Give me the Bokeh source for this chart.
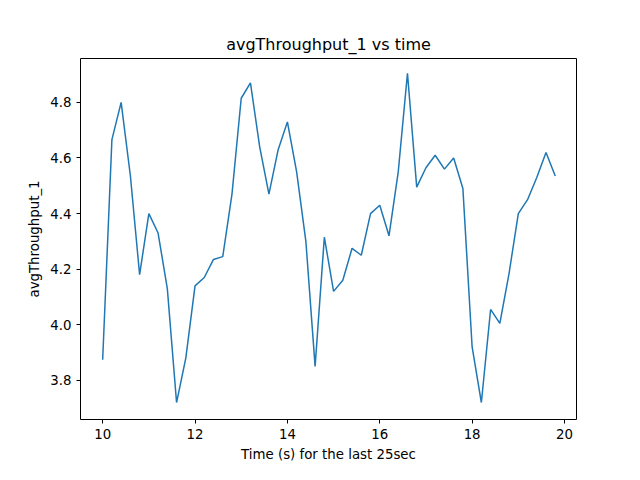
from bokeh.plotting import figure
from bokeh.models import Range1d, FixedTicker, NumeralTickFormatter
from bokeh.embed import file_html
from bokeh.resources import INLINE

# time values (s) and average throughput
time_s = [10.0, 10.2, 10.4, 10.6, 10.8, 11.0, 11.2, 11.4, 11.6, 11.8,
          12.0, 12.2, 12.4, 12.6, 12.8, 13.0, 13.2, 13.4, 13.6, 13.8,
          14.0, 14.2, 14.4, 14.6, 14.8, 15.0, 15.2, 15.4, 15.6, 15.8,
          16.0, 16.2, 16.4, 16.6, 16.8, 17.0, 17.2, 17.4, 17.6, 17.8,
          18.0, 18.2, 18.4, 18.6, 18.8, 19.0, 19.2, 19.4, 19.6, 19.8]
avg_throughput = [3.874, 4.666, 4.80, 4.536, 4.18, 4.40, 4.33, 4.13, 3.72, 3.88,
                  4.14, 4.17, 4.235, 4.245, 4.47, 4.815, 4.87, 4.64, 4.47, 4.63,
                  4.73, 4.55, 4.30, 3.85, 4.315, 4.12, 4.16, 4.275, 4.25, 4.40,
                  4.43, 4.32, 4.55, 4.905, 4.495, 4.565, 4.61, 4.56, 4.60, 4.49,
                  3.92, 3.72, 4.055, 4.005, 4.185, 4.40, 4.45, 4.53, 4.62, 4.535]

font = "DejaVu Sans"

p = figure(width=624, height=464, output_backend="svg", toolbar_location=None,
           title="avgThroughput_1 vs time",
           x_range=Range1d(9.52, 20.26), y_range=Range1d(3.659, 4.958),
           min_border_left=80, min_border_right=48, min_border_top=58, min_border_bottom=37)

p.line(time_s, avg_throughput, line_color="#1f77b4", line_width=1.5)

p.title.align = "center"
p.title.text_font = font
p.title.text_font_size = "12pt"
p.title.text_font_style = "normal"
p.title.text_color = "black"

p.xgrid.visible = False
p.ygrid.visible = False
p.outline_line_color = "black"
p.outline_line_width = 1

p.xaxis.axis_label = "Time (s) for the last 25sec"
p.yaxis.axis_label = "avgThroughput_1"
p.xaxis.ticker = FixedTicker(ticks=[10, 12, 14, 16, 18, 20])
p.yaxis.ticker = FixedTicker(ticks=[3.8, 4.0, 4.2, 4.4, 4.6, 4.8])
p.yaxis.formatter = NumeralTickFormatter(format="0.0")
for ax in (p.xaxis, p.yaxis):
    ax.axis_label_text_font = font
    ax.axis_label_text_font_style = "normal"
    ax.axis_label_text_font_size = "10pt"
    ax.axis_label_text_color = "black"
    ax.major_label_text_font = font
    ax.major_label_text_font_size = "10pt"
    ax.major_label_text_color = "black"
    ax.minor_tick_line_color = None
    ax.major_tick_out = 4
    ax.major_tick_in = 0
    ax.major_tick_line_color = "black"
    ax.axis_line_color = None

open("out.html", "w").write(file_html(p, INLINE))
